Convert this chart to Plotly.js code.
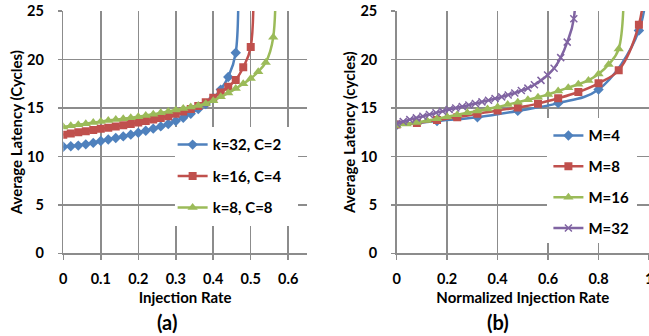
<!DOCTYPE html>
<html><head><meta charset="utf-8">
<script src="https://cdn.plot.ly/plotly-3.0.1.min.js"></script>
<style>html,body{margin:0;padding:0;background:#fff}#chart{width:649px;height:336px}</style>
</head><body><div id="chart"></div>
<script>
// Panel (a): injection rate vs average latency
const rateK32 = [0,0.02,0.04,0.06,0.08,0.10,0.12,0.14,0.16,0.18,0.20,0.22,0.24,0.26,0.28,0.30,0.32,0.34,0.36,0.38,0.40,0.42,0.44,0.46,0.4615];
const latK32  = [11.0,11.05,11.12,11.25,11.4,11.6,11.75,11.9,12.07,12.25,12.45,12.65,12.87,13.1,13.35,13.65,14.0,14.4,14.9,15.4,16.0,16.9,18.2,20.7,40];
const rateK16 = [0,0.02,0.04,0.06,0.08,0.10,0.12,0.14,0.16,0.18,0.20,0.22,0.24,0.26,0.28,0.30,0.32,0.34,0.36,0.38,0.40,0.42,0.44,0.46,0.48,0.50,0.5015];
const latK16  = [12.25,12.37,12.49,12.61,12.73,12.85,12.97,13.1,13.23,13.36,13.5,13.65,13.8,13.97,14.15,14.4,14.65,14.9,15.2,15.6,16.05,16.6,17.2,17.9,19.2,21.3,40];
const rateK8  = [0,0.02,0.04,0.06,0.08,0.10,0.12,0.14,0.16,0.18,0.20,0.22,0.24,0.26,0.28,0.30,0.32,0.34,0.36,0.38,0.40,0.42,0.44,0.46,0.48,0.50,0.52,0.54,0.56,0.5615];
const latK8   = [13.05,13.16,13.27,13.38,13.49,13.6,13.7,13.8,13.9,14.0,14.1,14.22,14.35,14.5,14.65,14.8,14.95,15.1,15.25,15.45,15.75,16.15,16.55,17.0,17.5,18.05,18.75,19.7,22.3,40];
const namesA  = ["k=32, C=2","k=16, C=4","k=8, C=8"];

// Panel (b): normalized injection rate vs average latency
const rateM4  = [0,0.16,0.32,0.48,0.64,0.80,0.96,1.0];
const latM4   = [13.25,13.65,14.05,14.7,15.5,16.9,23.0,32];
const rateM8  = [0,0.08,0.16,0.24,0.32,0.40,0.48,0.56,0.64,0.72,0.80,0.88,0.96,0.99];
const latM8   = [13.3,13.45,13.75,14.05,14.4,14.75,15.05,15.45,16.0,16.65,17.55,18.9,23.6,30];
const rateM16 = [0,0.04,0.08,0.12,0.16,0.20,0.24,0.28,0.32,0.36,0.40,0.44,0.48,0.52,0.56,0.60,0.64,0.68,0.72,0.76,0.80,0.84,0.88,0.90];
const latM16  = [13.2,13.35,13.5,13.7,13.9,14.1,14.3,14.5,14.7,14.9,15.1,15.35,15.6,15.85,16.1,16.4,16.75,17.1,17.45,17.85,18.5,19.5,21.1,35];
const rateM32 = [0,0.026,0.052,0.078,0.104,0.13,0.156,0.182,0.208,0.234,0.26,0.286,0.312,0.338,0.364,0.39,0.416,0.442,0.468,0.494,0.52,0.546,0.572,0.598,0.624,0.65,0.676,0.702,0.712];
const latM32  = [13.4,13.6,13.8,13.98,14.15,14.32,14.5,14.67,14.85,15.0,15.15,15.3,15.47,15.63,15.8,15.97,16.15,16.35,16.55,16.8,17.05,17.4,17.85,18.4,19.1,20.2,21.8,24.2,40];
const namesB  = ["M=4","M=8","M=16","M=32"];

const xTitleA = "Injection Rate";
const xTitleB = "Normalized Injection Rate";
const yTitleA = "Average Latency (Cycles)";
const yTitleB = "Average Latency (cycles)";
const panelLabels = ["(a)", "(b)"];
const edgeTickLabel = "1";

const BLUE = "#4F81BD", RED = "#C0504D", GREEN = "#9BBB59", PURPLE = "#8064A2";
const FONT = "Lato, 'Open Sans', sans-serif";

function tr(x, y, name, color, symbol, size, xa, ya, leg, grp) {
  return {
    x: x, y: y, name: name, type: "scatter", mode: "lines+markers",
    xaxis: xa, yaxis: ya, legend: leg, legendgroup: grp,
    line: {color: color, width: 2.5, shape: "spline", smoothing: 1},
    marker: {color: color, symbol: symbol, size: size, line: {color: color, width: symbol.indexOf("x") === 0 ? 1.5 : 0}}
  };
}

const data = [
  tr(rateK32, latK32, namesA[0], BLUE, "diamond", 8, "x", "y", "legend", "a1"),
  tr(rateK16, latK16, namesA[1], RED, "square", 8, "x", "y", "legend", "a2"),
  tr(rateK8,  latK8,  namesA[2], GREEN, "triangle-up", 9, "x", "y", "legend", "a3"),
  tr(rateM4,  latM4,  namesB[0], BLUE, "diamond", 8, "x2", "y2", "legend2", "b1"),
  tr(rateM8,  latM8,  namesB[1], RED, "square", 8, "x2", "y2", "legend2", "b2"),
  tr(rateM16, latM16, namesB[2], GREEN, "triangle-up", 9, "x2", "y2", "legend2", "b3"),
  tr(rateM32, latM32, namesB[3], PURPLE, "x-thin", 7, "x2", "y2", "legend2", "b4")
];

const GRID = "#8c8c8c";
const tickFont = {family: FONT, size: 14.5, color: "#000", weight: "bold"};
const titleFont = {family: FONT, size: 15, color: "#000", weight: "bold"};
function xax(domain, range, dtick, title, anchor) {
  return {domain: domain, range: range, dtick: dtick, tick0: 0, anchor: anchor,
    showline: true, linecolor: GRID, linewidth: 1.5, showgrid: true, gridcolor: GRID, gridwidth: 1.5,
    zeroline: false, ticks: "outside", ticklen: 5, tickwidth: 1.5, tickcolor: GRID,
    tickfont: tickFont, ticklabelstandoff: 7, title: {text: title, font: titleFont, standoff: 6}, fixedrange: true};
}
function yax(domain, anchor, title) {
  return {domain: domain, range: [0, 25], dtick: 5, tick0: 0, anchor: anchor,
    showline: true, linecolor: GRID, linewidth: 1.5, showgrid: true, gridcolor: GRID, gridwidth: 1.5,
    zeroline: false, ticks: "outside", ticklen: 4, tickwidth: 1.5, tickcolor: GRID,
    tickfont: tickFont, ticklabelstandoff: 11, title: {text: title, font: titleFont, standoff: 1}, fixedrange: true};
}

const legendBase = {bgcolor: "rgba(0,0,0,0)", borderwidth: 0, font: {family: FONT, size: 15, color: "#000", weight: "bold"},
  xanchor: "left", yanchor: "top", traceorder: "grouped", tracegroupgap: 9, itemclick: false};

const layout = {
  width: 649, height: 336,
  margin: {l: 0, r: 0, t: 0, b: 0},
  paper_bgcolor: "#fff", plot_bgcolor: "#fff",
  showlegend: true,
  xaxis: xax([0.0975, 0.473], [0, 0.65], 0.1, xTitleA, "y"),
  yaxis: yax([0.246, 0.967], "x", yTitleA),
  xaxis2: xax([0.6112, 1], [0, 1], 0.2, xTitleB, "y2"),
  yaxis2: yax([0.246, 0.967], "x2", yTitleB),
  legend: Object.assign({}, legendBase, {x: 0.266, y: 0.618}),
  legend2: Object.assign({}, legendBase, {x: 0.845, y: 0.645, tracegroupgap: 8.3}),
  shapes: [
    {type: "rect", xref: "paper", yref: "paper", x0: 0.2696, x1: 0.4592, y0: 0.3274, y1: 0.622, fillcolor: "#fff", line: {width: 0}, layer: "above"},
    {type: "rect", xref: "paper", yref: "paper", x0: 0.8428, x1: 0.9815, y0: 0.2768, y1: 0.6488, fillcolor: "#fff", line: {width: 0}, layer: "above"}
  ],
  annotations: [
    {text: panelLabels[0], xref: "paper", yref: "paper", x: 0.2569, y: 0.041, xanchor: "center", yanchor: "middle", showarrow: false, font: {family: FONT, size: 20, color: "#000", weight: "bold"}},
    {text: panelLabels[1], xref: "paper", yref: "paper", x: 0.7673, y: 0.041, xanchor: "center", yanchor: "middle", showarrow: false, font: {family: FONT, size: 20, color: "#000", weight: "bold"}},
    {text: edgeTickLabel, xref: "paper", yref: "paper", x: 1.0, y: 0.1726, xanchor: "center", yanchor: "middle", showarrow: false, font: tickFont}
  ]
};

Plotly.newPlot("chart", data, layout, {staticPlot: true, displayModeBar: false});
</script>
</body></html>
